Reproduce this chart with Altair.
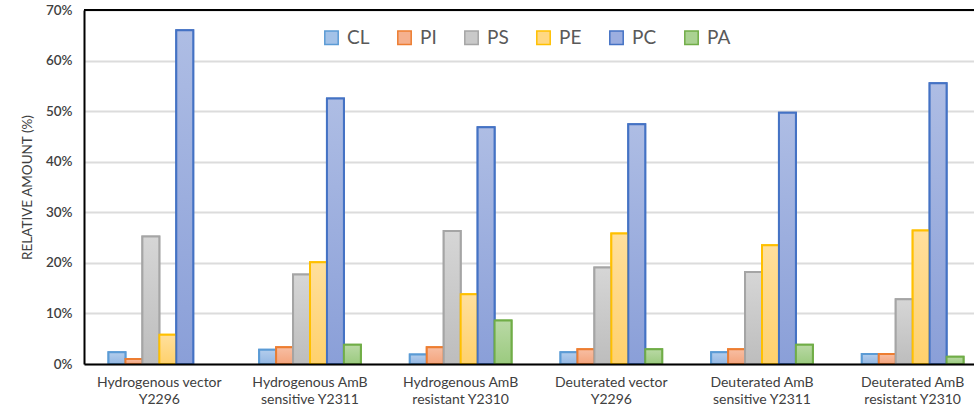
import altair as alt
import pandas as pd

groups = [
    "Hydrogenous vector\nY2296",
    "Hydrogenous AmB\nsensitive Y2311",
    "Hydrogenous AmB\nresistant Y2310",
    "Deuterated vector\nY2296",
    "Deuterated AmB\nsensitive Y2311",
    "Deuterated AmB\nresistant Y2310",
]
series = ["CL", "PI", "PS", "PE", "PC", "PA"]

CL = [2.3, 2.8, 1.9, 2.3, 2.3, 2.0]
PI = [1.0, 3.3, 3.3, 2.9, 2.9, 2.0]
PS = [25.2, 17.7, 26.3, 19.1, 18.2, 12.8]
PE = [5.8, 20.1, 13.8, 25.8, 23.5, 26.4]
PC = [66.0, 52.5, 46.8, 47.4, 49.7, 55.5]
PA = [0.0, 3.8, 8.6, 2.9, 3.8, 1.45]

y_ticks = [0, 10, 20, 30, 40, 50, 60, 70]

stroke_colors = ["#5b9bd5", "#ed7d31", "#a5a5a5", "#ffc000", "#4472c4", "#70ad47"]
top_colors = ["#b3cdec", "#f7bea3", "#d6d6d6", "#ffdf9c", "#aebde4", "#b9d9a5"]
bottom_colors = ["#93b7e3", "#f4a47c", "#bdbdbd", "#ffd16c", "#8a9fd8", "#9bca7f"]
mid_colors = ["#a3c2e8", "#f5b18f", "#c9c9c9", "#ffd884", "#9caee0", "#aad292"]

values = {"CL": CL, "PI": PI, "PS": PS, "PE": PE, "PC": PC, "PA": PA}
rows = []
for s in series:
    for g, v in zip(groups, values[s]):
        rows.append({"group": g, "series": s, "value": v})
df = pd.DataFrame(rows)

FONT = "Lato"

x_enc = alt.X(
    "group:N",
    sort=groups,
    scale=alt.Scale(domain=groups, range=[0, 904], paddingInner=0.325, paddingOuter=0.1625),
    axis=alt.Axis(
        title=None,
        labelExpr="split(datum.label, '\\n')",
        labelAngle=0,
        labelFont=FONT,
        labelFontSize=14,
        labelColor="#404040",
        labelPadding=11,
        labelLineHeight=17,
        labelLimit=0,
        labelOverlap=False,
        ticks=False,
        grid=False,
        domainColor="black",
        domainWidth=2,
        zindex=1,
    ),
)
xo_enc = alt.XOffset("series:N", sort=series, scale=alt.Scale(domain=series, paddingInner=0, paddingOuter=0))
y_enc = alt.Y(
    "value:Q",
    scale=alt.Scale(domain=[0, max(y_ticks)], nice=False),
    axis=alt.Axis(
        values=y_ticks,
        labelExpr="datum.value + '%'",
        title="RELATIVE AMOUNT (%)",
        titleFont=FONT,
        titleFontSize=13.5,
        titleFontWeight="normal",
        titleColor="#404040",
        titlePadding=11,
        labelFont=FONT,
        labelFontSize=13.5,
        labelFontWeight=600,
        labelColor="#404040",
        labelPadding=12,
        ticks=False,
        grid=True,
        gridColor="#dcdcdc",
        gridWidth=2,
        domainColor="black",
        domainWidth=2,
    ),
)

legend = alt.Legend(
    title=None,
    orient="none",
    legendX=238,
    legendY=18,
    direction="horizontal",
    symbolType="square",
    symbolSize=180,
    symbolStrokeWidth=1.5,
    labelFont=FONT,
    labelFontSize=19,
    labelColor="#595959",
    labelOffset=6,
    columnPadding=24,
    padding=0,
)

base = (
    alt.Chart(df)
    .transform_filter("datum.value > 0")
    .mark_bar(strokeWidth=2)
    .encode(
        x=x_enc,
        xOffset=xo_enc,
        y=y_enc,
        fill=alt.Fill("series:N", sort=series, scale=alt.Scale(domain=series, range=mid_colors), legend=legend),
        stroke=alt.Stroke("series:N", sort=series, scale=alt.Scale(domain=series, range=stroke_colors), legend=legend),
    )
)

layers = [base]
for i, s in enumerate(series):
    grad = alt.Gradient(
        gradient="linear",
        x1=0, x2=0, y1=0, y2=1,
        stops=[
            alt.GradientStop(offset=0, color=top_colors[i]),
            alt.GradientStop(offset=1, color=bottom_colors[i]),
        ],
    )
    layers.append(
        alt.Chart(df)
        .transform_filter(f"datum.series == '{s}' && datum.value > 0")
        .mark_bar(fill=grad, stroke=stroke_colors[i], strokeWidth=2)
        .encode(x=x_enc, xOffset=xo_enc, y=y_enc)
    )

top_rule = alt.Chart(df).mark_rule(color="black", strokeWidth=2).encode(y=alt.datum(max(y_ticks)))
layers.append(top_rule)

chart = (
    alt.layer(*layers)
    .properties(
        width=890,
        height=354,
        autosize=alt.AutoSizeParams(type="none"),
        padding={"left": 84, "top": 10, "right": 0, "bottom": 46},
        background="white",
    )
    .configure_view(stroke=None)
)

chart.save("out.html", embed_options={"renderer": "svg", "actions": False})
